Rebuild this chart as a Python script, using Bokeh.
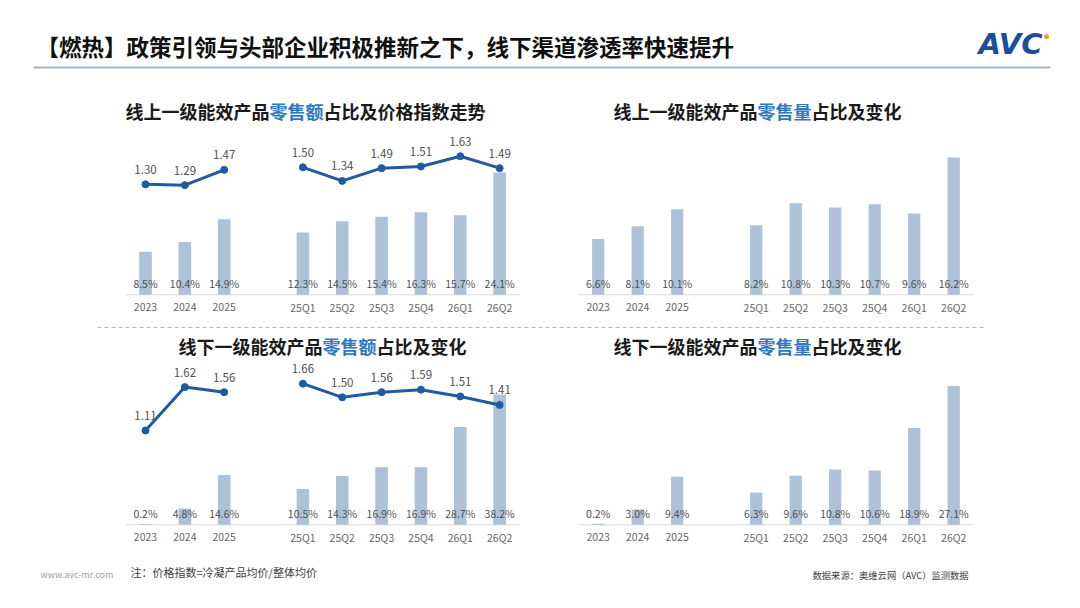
from bokeh.plotting import figure
from bokeh.models import Range1d, ColumnDataSource
from bokeh.core.properties import value
from bokeh.embed import file_html
from bokeh.resources import INLINE

# ---------------- data ----------------
categories = ["2023", "2024", "2025", "25Q1", "25Q2", "25Q3", "25Q4", "26Q1", "26Q2"]
online_sales_share = [8.5, 10.4, 14.9, 12.3, 14.5, 15.4, 16.3, 15.7, 24.1]
online_price_index = [1.30, 1.29, 1.47, 1.50, 1.34, 1.49, 1.51, 1.63, 1.49]
online_volume_share = [6.6, 8.1, 10.1, 8.2, 10.8, 10.3, 10.7, 9.6, 16.2]
offline_sales_share = [0.2, 4.8, 14.6, 10.5, 14.3, 16.9, 16.9, 28.7, 38.2]
offline_price_index = [1.11, 1.62, 1.56, 1.66, 1.50, 1.56, 1.59, 1.51, 1.41]
offline_volume_share = [0.2, 3.0, 9.4, 6.3, 9.6, 10.8, 10.6, 18.9, 27.1]
n_annual = 3

main_title = "【燃热】政策引领与头部企业积极推新之下，线下渠道渗透率快速提升"
chart_titles = [
    ("线上一级能效产品", "零售额", "占比及价格指数走势"),
    ("线上一级能效产品", "零售量", "占比及变化"),
    ("线下一级能效产品", "零售额", "占比及变化"),
    ("线下一级能效产品", "零售量", "占比及变化"),
]
note_text = "注：价格指数=冷凝产品均价/整体均价"
source_text = "数据来源：奥维云网（AVC）监测数据"
site_text = "www.avc-mr.com"

# ---------------- styles ----------------
FONT = value("Noto Sans CJK SC")
BAR_COLOR = "#adc2d8"
LINE_COLOR = "#1f5aa3"
TITLE_BLUE = "#2f78bd"
LABEL_COLOR = "#505050"
TICK_COLOR = "#666666"

W, H = 1064, 592
L, T = 0, 0  # canvas origin in screenshot

p = figure(width=W, height=H, output_backend="svg", toolbar_location=None,
           x_axis_type=None, y_axis_type=None, min_border=0,
           x_range=Range1d(L, L + W), y_range=Range1d(T + H, T))
p.outline_line_color = None
p.grid.visible = False
p.background_fill_color = "white"
p.border_fill_color = "white"

slots = [i if i < n_annual else i + 1 for i in range(len(categories))]


def add_ranges(name, x0, dx, baseline, k_bar, k_line=None):
    p.extra_x_ranges[name] = Range1d((L - x0) / dx, (L + W - x0) / dx)
    p.extra_y_ranges[name + "_bar"] = Range1d((baseline - (T + H)) / k_bar, (baseline - T) / k_bar)
    if k_line is not None:
        p.extra_y_ranges[name + "_line"] = Range1d((baseline - (T + H)) / k_line, (baseline - T) / k_line)


def draw_chart(name, shares, bar_w, index=None):
    src = ColumnDataSource(dict(x=slots, top=shares, cat=categories,
                                lab=[f"{v:.1f}%" for v in shares],
                                zero=[0] * len(shares)))
    # axis line
    p.segment(x0=[-0.5], y0=[0], x1=[slots[-1] + 0.5], y1=[0], line_color="#d9d9d9",
              line_width=1, x_range_name=name, y_range_name=name + "_bar")
    p.vbar(x="x", top="top", bottom=0, width=bar_w, source=src, fill_color=BAR_COLOR,
           line_color=None, x_range_name=name, y_range_name=name + "_bar")
    p.text(x="x", y="zero", text="lab", source=src, x_range_name=name, y_range_name=name + "_bar",
           text_align="center", text_baseline="middle", text_font=FONT, text_font_size="10.5px",
           text_color=LABEL_COLOR, y_offset=-11)
    p.text(x="x", y="zero", text="cat", source=src, x_range_name=name, y_range_name=name + "_bar",
           text_align="center", text_baseline="middle", text_font=FONT, text_font_size="10.5px",
           text_color=TICK_COLOR, y_offset=12.5)
    if index is not None:
        for a, b in [(0, n_annual), (n_annual, len(categories))]:
            ls = ColumnDataSource(dict(x=slots[a:b], y=index[a:b], lab=[f"{v:.2f}" for v in index[a:b]]))
            p.line(x="x", y="y", source=ls, line_color=LINE_COLOR, line_width=3,
                   x_range_name=name, y_range_name=name + "_line")
            p.scatter(x="x", y="y", source=ls, size=7, fill_color=LINE_COLOR, line_color=LINE_COLOR,
                      x_range_name=name, y_range_name=name + "_line")
            p.text(x="x", y="y", text="lab", source=ls, x_range_name=name, y_range_name=name + "_line",
                   text_align="center", text_baseline="middle", text_font=FONT, text_font_size="11.5px",
                   text_color=LABEL_COLOR, y_offset=-15)


add_ranges("tl", 145.0, 39.35, 294.3, 5.07, 85.0)
add_ranges("tr", 597.7, 39.5, 294.3, 8.47)
add_ranges("bl", 145.0, 39.35, 524.3, 3.41, 85.0)
add_ranges("br", 597.7, 39.5, 524.3, 5.12)

draw_chart("tl", online_sales_share, 0.32, online_price_index)
draw_chart("tr", online_volume_share, 0.31)
draw_chart("bl", offline_sales_share, 0.32, offline_price_index)
draw_chart("br", offline_volume_share, 0.31)

# ---------------- header ----------------
p.text(x=[36], y=[45], text=[main_title], text_align="left", text_baseline="middle",
       text_font=FONT, text_font_size="22.5px", text_font_style="bold", text_color="#111111")
p.segment(x0=[33], y0=[67], x1=[1050], y1=[67], line_color="#a3b6c6", line_width=2)
p.text(x=[1010], y=[43], text=["AVC"], text_align="center", text_baseline="middle",
       text_font=value("DejaVu Sans"), text_font_size="29px", text_font_style="bold italic",
       text_color="#1b4f9e")
p.scatter(x=[1046], y=[36], size=5, fill_color="#f0a030", line_color=None)

# ---------------- chart titles ----------------
TS = 18
title_pos = [(125, 110), (613, 110), (178, 345), (613, 345)]
for (pre, mid, suf), (tx, ty) in zip(chart_titles, title_pos):
    parts = [(pre, "#1a1a1a"), (mid, TITLE_BLUE), (suf, "#1a1a1a")]
    cx = tx
    for s, c in parts:
        p.text(x=[cx], y=[ty], text=[s], text_align="left", text_baseline="middle",
               text_font=FONT, text_font_size=f"{TS}px", text_font_style="bold", text_color=c)
        cx += len(s) * TS

# dashed separator
p.segment(x0=[97], y0=[327], x1=[985], y1=[327], line_color="#b5b5b5", line_width=1,
          line_dash="4 3")

# ---------------- footer ----------------
p.text(x=[40], y=[574], text=[site_text], text_align="left", text_baseline="middle",
       text_font=FONT, text_font_size="9px", text_color="#a0a0a0")
p.text(x=[130], y=[571], text=[note_text], text_align="left", text_baseline="middle",
       text_font=FONT, text_font_size="11px", text_color="#404040")
p.text(x=[812], y=[574], text=[source_text], text_align="left", text_baseline="middle",
       text_font=FONT, text_font_size="9.3px", text_color="#404040")

open("out.html", "w").write(file_html(p, INLINE))
